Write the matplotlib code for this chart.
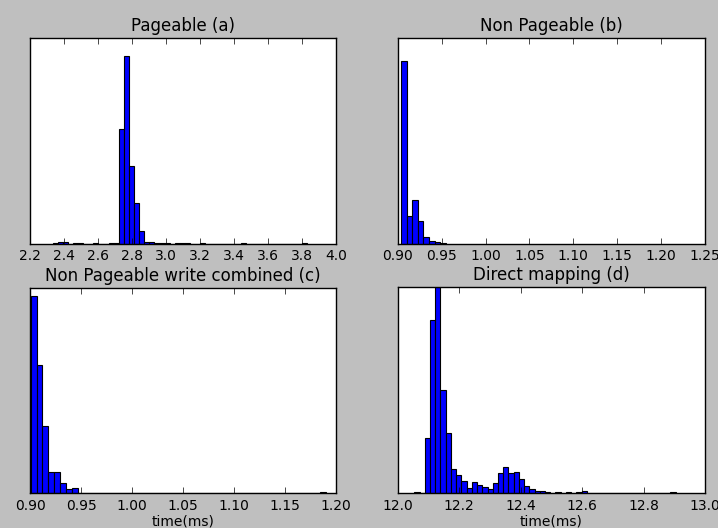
import matplotlib
matplotlib.use('Agg')
import matplotlib.pyplot as plt
import numpy as np

# bin start, bin width and bar heights (relative counts) for each panel
a_start, a_width = 2.333, 0.0299
a_counts = [6, 11, 11, 0, 3, 3, 0, 0, 3, 0,
            0, 3, 5, 560, 911, 377, 199, 61, 11, 11,
            5, 3, 3, 0, 3, 6, 3, 0, 0, 3,
            0, 0, 0, 0, 0, 0, 0, 3, 0, 0,
            0, 0, 0, 0, 0, 0, 0, 0, 0, 3]

b_start, b_width = 0.9038, 0.00636
b_counts = [890, 134, 215, 110, 32, 16, 10, 3]

c_start, c_width = 0.9005, 0.0058
c_counts = [964, 624, 327, 104, 102, 49, 19, 23] + [0] * 41 + [5]

d_start, d_width = 12.054, 0.017
d_counts = [5, 0, 266, 842, 1000, 500, 294, 115, 87, 57,
            26, 53, 40, 32, 21, 50, 99, 125, 99, 103,
            71, 34, 18, 11, 10, 8, 0, 5, 0, 5,
            0, 5, 10, 0, 0, 0, 0, 0, 0, 0,
            0, 0, 0, 0, 0, 0, 0, 0, 0, 5]

panels = [
    ("Pageable (a)", a_start, a_width, a_counts, (2.2, 4.0), np.arange(2.2, 4.01, 0.2), "%.1f", None),
    ("Non Pageable (b)", b_start, b_width, b_counts, (0.90, 1.25), np.arange(0.90, 1.251, 0.05), "%.2f", None),
    ("Non Pageable write combined (c)", c_start, c_width, c_counts, (0.90, 1.20), np.arange(0.90, 1.201, 0.05), "%.2f", "time(ms)"),
    ("Direct mapping (d)", d_start, d_width, d_counts, (12.0, 13.0), np.arange(12.0, 13.01, 0.2), "%.1f", "time(ms)"),
]

plt.style.use('classic')
fig = plt.figure(figsize=(7.18, 5.28), dpi=100, facecolor='#bfbfbf')

rects = [
    [0.042, 0.538, 0.426, 0.390],
    [0.554, 0.538, 0.428, 0.390],
    [0.042, 0.066, 0.426, 0.388],
    [0.554, 0.066, 0.428, 0.390],
]

for rect, (title, start, width, counts, xlim, ticks, fmt, xlabel) in zip(rects, panels):
    ax = fig.add_axes(rect)
    counts = np.array(counts, dtype=float)
    edges = start + width * np.arange(len(counts))
    ax.bar(edges, counts, width=width, align='edge', color='#0000ff',
           edgecolor='black', linewidth=0.8)
    ax.set_xlim(*xlim)
    ax.set_ylim(0, 1000)
    ax.set_xticks(ticks)
    ax.set_xticklabels([fmt % t for t in ticks], fontsize=10)
    ax.set_yticks([])
    ax.set_title(title, fontsize=12)
    if xlabel:
        ax.set_xlabel(xlabel, fontsize=10, labelpad=1)

plt.savefig('out.png', dpi=100, facecolor=fig.get_facecolor())
plt.close()
